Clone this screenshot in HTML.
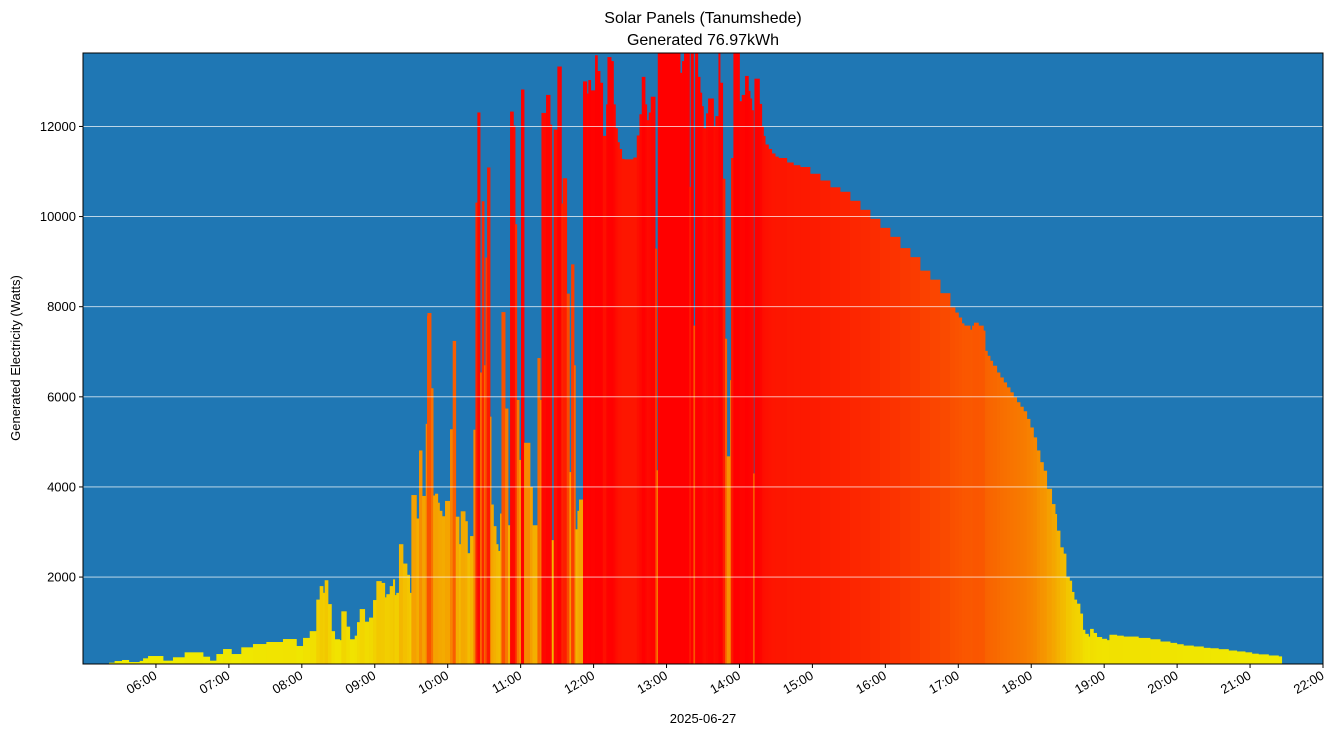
<!DOCTYPE html>
<html><head><meta charset="utf-8"><style>
html,body{margin:0;padding:0;background:#fff;}
svg{display:block;font-family:"Liberation Sans",sans-serif;}
</style></head><body>
<svg id="chart" width="1333" height="736" viewBox="0 0 1333 736">
<text x="703" y="23" text-anchor="middle" font-size="16">Solar Panels (Tanumshede)</text>
<text x="703" y="45" text-anchor="middle" font-size="16">Generated 76.97kWh</text>
<rect x="83" y="53" width="1240" height="611" fill="#1f77b4"/>
<g id="bars"></g>
<g id="grid"></g>
<rect x="83" y="53" width="1240" height="611" fill="none" stroke="#000" stroke-width="1"/>
<g id="yaxis"></g>
<g id="xaxis"></g>
<text x="703" y="723" text-anchor="middle" font-size="13">2025-06-27</text>
<text transform="translate(20,358) rotate(-90)" text-anchor="middle" font-size="13">Generated Electricity (Watts)</text>
</svg>
<script>
const times = [321.4,326.0,332.1,337.6,346.6,349.4,353.5,365.8,374.0,383.6,398.7,404.2,409.7,415.2,422.0,430.2,439.8,450.8,464.5,475.5,481.0,486.5,491.9,494.7,497.4,498.8,501.5,504.3,507.0,511.1,512.5,516.6,519.4,523.5,525.4,527.6,531.7,535.3,538.6,541.3,545.4,548.2,549.5,552.3,555.0,556.4,557.7,559.9,563.2,566.5,568.7,570.1,574.2,576.4,578.9,581.9,583.0,
583.3,586.3,588.0,589.6,591.8,593.2,595.3,597.8,601.9,604.1,606.6,609.3,610.7,614.3,616.2,618.4,621.1,622.8,624.4,626.6,628.0,629.9,631.0,632.4,634.8,635.7,637.6,639.8,641.4,643.1,644.2,647.2,649.6,651.3,654.0,655.4,656.8,658.7,660.3,662.8,667.7,669.7,673.8,676.0,677.1,680.9,684.2,685.6,687.2,690.2,693.5,694.6,697.9,700.1,701.5,703.9,705.0,706.7,708.0,711.3,714.4,715.7,717.6,721.2,723.1,725.3,727.5,730.3,731.4,734.4,736.3,737.9,739.6,741.2,743.1,745.1,752.7,755.5,757.7,759.6,762.3,763.7,765.4,767.0,770.6,771.9,772.8,791.1,792.8,794.4,798.8,799.9,802.1,803.5,805.7,807.6,809.0,810.3,812.5,814.2,818.6,820.2,822.7,824.0,826.2,828.1,829.5,832.3,833.1,835.0,840.0,841.9,844.6,847.3,848.7,850.1,851.5,852.3,856.4,858.3,859.7,861.1,863.8,866.5,869.3,872.0,878.9,884.3,
889.8,898.0,906.3,914.5,922.7,930.9,939.2,947.4,955.6,963.8,972.1,980.3,988.5,996.7,1005.0,
1013.2,1017.3,1020.1,1022.8,1024.7,1029.7,1031.3,1032.9,1036.5,1040.6,1042.0,1043.9,1046.1,1048.3,1051.6,1054.3,1057.1,1059.8,1062.6,1065.3,1068.0,1070.8,1073.5,1076.3,1079.0,1081.8,1084.5,1087.2,1090.0,1092.7,1096.8,1099.6,1100.9,1103.7,1106.4,1108.6,1111.4,1113.3,1115.2,1117.4,1120.1,1122.3,1124.2,1127.0,1128.4,1131.1,1133.8,1138.0,1142.1,1144.3,1150.3,1155.8,1168.1,1177.7,1186.0,1194.2,1199.7,1205.1,1213.4,1221.6,1227.1,1233.9,1242.2,1249.0,1255.9,1261.4,1266.8,1275.1,1283.3];
const watts = [100,137,160,115,140,197,248,145,220,330,233,145,292,403,292,441,514,559,625,470,650,800,1500,1800,1650,1930,1400,800,620,600,1240,900,620,700,1000,1290,1010,1100,1490,1910,1870,1550,1620,1800,1950,1600,1650,2730,2300,2050,1650,3820,3300,4810,3800,5400,7800,
7860,6190,3810,3850,3650,3470,3350,3690,5280,7240,3340,2730,3460,3240,2530,2910,5270,10310,12310,6540,10340,6700,9090,11090,5560,3610,3130,2730,2580,3410,7880,5740,3150,12330,12020,9830,5930,4600,12820,4980,4000,3150,6860,5930,12300,12700,12040,2820,11930,13330,10290,10850,8290,4330,8940,6700,3060,3470,3720,13000,12730,13030,12800,13580,13230,12970,11790,12490,13540,13450,12490,11960,11650,11500,11280,11270,11310,11800,12270,13100,12490,12140,12310,12660,9290,4370,13630,13190,13450,13630,10660,13630,7580,13630,13100,12750,12450,11960,12290,12620,12000,12230,13630,12970,10840,7290,4680,6370,11300,13630,12560,12700,13120,12790,12620,12360,4300,13060,12500,12000,11790,11600,11500,11400,11330,11300,11200,11140,
11100,10950,10800,10650,10550,10350,10150,9950,9750,9550,9300,9100,8800,8600,8300,
7985,7870,7760,7630,7580,7490,7580,7645,7580,7470,7020,6910,6800,6690,6540,6430,6320,6210,6100,5990,5880,5780,5680,5510,5320,5100,4810,4550,4360,3960,3620,3400,3030,2660,2520,2010,1920,1670,1500,1410,1190,830,740,680,850,760,670,630,600,720,700,680,650,620,570,540,510,480,460,430,420,400,370,350,330,300,285,260,240];
const lastEnd = 1286.0;
const yTicks = [2000,4000,6000,8000,10000,12000];
const xTickLabels = ["06:00","07:00","08:00","09:00","10:00","11:00","12:00","13:00","14:00","15:00","16:00","17:00","18:00","19:00","20:00","21:00","22:00"];

const NS="http://www.w3.org/2000/svg";
const X0=83,X1=1323,Y0=53,Y1=664,TMIN=300,TMAX=1320,VMIN=71,VMAX=13630;
function xs(t){return X0+(t-TMIN)*(X1-X0)/(TMAX-TMIN);}
function ys(v){return Y1-(v-VMIN)*(Y1-Y0)/(VMAX-VMIN);}
function color(v){
  const f=Math.max(0,1-v/13000);
  const h=60*Math.pow(f,1.2);
  const l=47+3*(1-h/60);
  return "hsl("+h.toFixed(1)+",100%,"+l.toFixed(1)+"%)";
}
const bars=document.getElementById('bars');
for(let i=0;i<times.length;i++){
  const t0=times[i], t1=(i+1<times.length)?times[i+1]:lastEnd;
  const v=Math.min(watts[i],VMAX);
  const r=document.createElementNS(NS,'rect');
  const x=xs(t0), w=xs(t1)-x;
  const yt=Math.max(Y0,ys(v));
  r.setAttribute('x',x.toFixed(2));
  r.setAttribute('width',(w+0.4).toFixed(2));
  r.setAttribute('y',yt.toFixed(2));
  r.setAttribute('height',(Y1-yt).toFixed(2));
  r.setAttribute('fill',color(watts[i]));
  
  
  bars.appendChild(r);
}
const grid=document.getElementById('grid'), yax=document.getElementById('yaxis');
yTicks.forEach(v=>{
  const y=ys(v);
  const l=document.createElementNS(NS,'line');
  l.setAttribute('x1',X0);l.setAttribute('x2',X1);l.setAttribute('y1',y);l.setAttribute('y2',y);
  l.setAttribute('stroke','#ffffff');l.setAttribute('stroke-opacity','0.8');l.setAttribute('stroke-width','0.8');
  
  
  grid.appendChild(l);
  const tk=document.createElementNS(NS,'line');
  tk.setAttribute('x1',X0-4);tk.setAttribute('x2',X0);tk.setAttribute('y1',y);tk.setAttribute('y2',y);tk.setAttribute('stroke','#000');
  
  
  yax.appendChild(tk);
  const t=document.createElementNS(NS,'text');
  t.setAttribute('x',X0-7);t.setAttribute('y',y+4.5);t.setAttribute('text-anchor','end');t.setAttribute('font-size','13');
  t.textContent=v;
  
  
  yax.appendChild(t);
});
const xax=document.getElementById('xaxis');
xTickLabels.forEach((lab,i)=>{
  const x=xs((6+i)*60);
  const tk=document.createElementNS(NS,'line');
  tk.setAttribute('x1',x);tk.setAttribute('x2',x);tk.setAttribute('y1',Y1);tk.setAttribute('y2',Y1+4);tk.setAttribute('stroke','#000');
  
  
  xax.appendChild(tk);
  const t=document.createElementNS(NS,'text');
  t.setAttribute('transform','translate('+(x+2)+','+(Y1+14)+') rotate(-30)');
  t.setAttribute('text-anchor','end');t.setAttribute('font-size','13');
  t.textContent=lab;
  
  
  xax.appendChild(t);
});
</script>
</body></html>
